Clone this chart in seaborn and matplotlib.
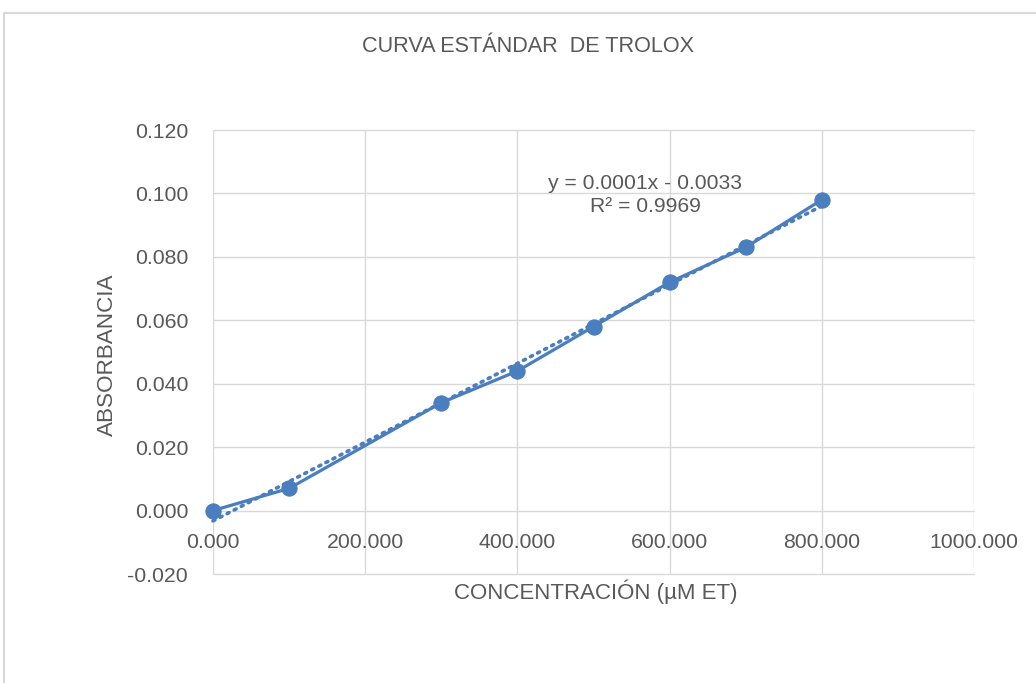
import matplotlib
matplotlib.use("Agg")
import matplotlib.pyplot as plt
import seaborn as sns
import numpy as np
import pandas as pd
from matplotlib.patches import Rectangle

# Data
concentracion = [0, 100, 300, 400, 500, 600, 700, 800]
absorbancia = [0.000, 0.007, 0.034, 0.044, 0.058, 0.072, 0.083, 0.098]
x_ticks = [0, 200, 400, 600, 800, 1000]
y_ticks = [-0.020, 0.000, 0.020, 0.040, 0.060, 0.080, 0.100, 0.120]
title = "CURVA ESTÁNDAR  DE TROLOX"
xlabel = "CONCENTRACIÓN (µM ET)"
ylabel = "ABSORBANCIA"
eq_text = "y = 0.0001x - 0.0033\nR² = 0.9969"

df = pd.DataFrame({"x": concentracion, "y": absorbancia})

sns.set_style("white")
plt.rcParams['font.family'] = ['Liberation Sans', 'DejaVu Sans']

BLUE = "#4A7EBF"
TXT = "#595959"
GRID = "#D9D9D9"

fig = plt.figure(figsize=(10.36, 6.83), dpi=100)
ax = fig.add_axes([213/1036, 1-574/683, (974-213)/1036, (574-130)/683])

# outer chart frame
top = 1 - 13/683
fig.patches.append(Rectangle((4/1036, -0.2), 1.3, top + 0.2, transform=fig.transFigure,
                             fill=False, edgecolor=GRID, linewidth=1.5, zorder=0))

# trendline (linear fit, dotted)
sns.regplot(data=df, x="x", y="y", ax=ax, ci=None, scatter=False, truncate=True,
            line_kws=dict(color=BLUE, linestyle=(0, (0.6, 1.6)), linewidth=2.6,
                          dash_capstyle='round', zorder=3, clip_on=False))
# data series
sns.lineplot(data=df, x="x", y="y", ax=ax, color=BLUE, linewidth=2.3, marker='o',
             markersize=11, markeredgecolor=BLUE, zorder=4, clip_on=False)

ax.set_xlim(0, 1000)
ax.set_ylim(-0.02, 0.12)
ax.set_xticks(x_ticks)
ax.set_yticks(y_ticks)
ax.set_xticklabels([f"{v:.3f}" for v in x_ticks])
ax.set_yticklabels([f"{v:.3f}" for v in y_ticks])
ax.grid(True, color=GRID, linewidth=1.0)
for gl in ax.get_xgridlines() + ax.get_ygridlines():
    gl.set_clip_on(False)
ax.set_axisbelow(True)
for s in ax.spines.values():
    s.set_visible(False)
ax.spines['bottom'].set_position(('data', 0))
ax.tick_params(axis='both', length=0, labelsize=15.3, labelcolor=TXT)
ax.tick_params(axis='x', pad=16)
ax.tick_params(axis='y', pad=18)
ax.set_xlabel("")
ax.set_ylabel("")

fig.text(528/1036, 1-47/683, title, ha='center', va='center', fontsize=15.6, color=TXT)
fig.text(596/1036, 1-592/683, xlabel, ha='center', va='center', fontsize=16, color=TXT)
fig.text(107/1036, 1-355/683, ylabel, ha='center', va='center', fontsize=16.2, color=TXT, rotation=90)
ax.text(568, 0.0995, eq_text, ha='center', va='center', fontsize=15.2, color=TXT,
        linespacing=1.25, multialignment='center')

fig.savefig("out.png", dpi=100)
